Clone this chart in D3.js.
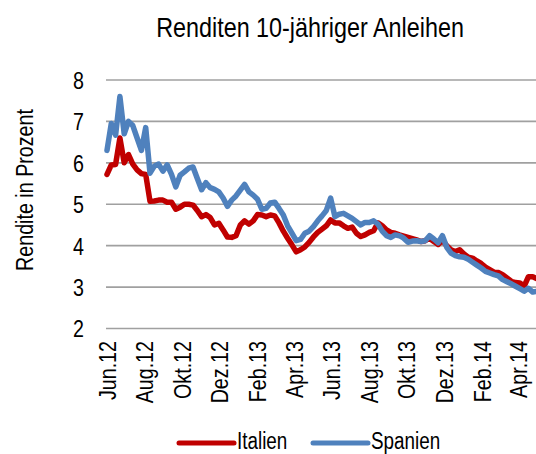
<!DOCTYPE html>
<html lang="de">
<head>
    <meta charset="UTF-8">
    <title>Renditen 10-jähriger Anleihen</title>
    <style>
        body {
            margin: 0;
            background: #fff;
        }
        svg text {
            font-family: "Liberation Sans Narrow", "Arial Narrow", "Liberation Sans", Arial, sans-serif;
            fill: #000;
        }
    </style>
    <script src="https://d3js.org/d3.v7.min.js"></script>
</head>
<body>
    <div id="chart"></div>

    <script>
        const dates = [
            "2012-06-01","2012-06-08","2012-06-15","2012-06-22","2012-06-29","2012-07-06","2012-07-13","2012-07-20","2012-07-27","2012-08-03",
            "2012-08-10","2012-08-17","2012-08-24","2012-08-31","2012-09-07","2012-09-14","2012-09-21","2012-09-28","2012-10-05","2012-10-12",
            "2012-10-19","2012-10-26","2012-11-02","2012-11-09","2012-11-16","2012-11-23","2012-11-30","2012-12-07","2012-12-14","2012-12-21",
            "2012-12-28","2013-01-04","2013-01-11","2013-01-18","2013-01-25","2013-02-01","2013-02-08","2013-02-15","2013-02-22","2013-03-01",
            "2013-03-08","2013-03-15","2013-03-22","2013-03-29","2013-04-05","2013-04-12","2013-04-19","2013-04-26","2013-05-03","2013-05-10",
            "2013-05-17","2013-05-24","2013-05-31","2013-06-07","2013-06-14","2013-06-21","2013-06-28","2013-07-05","2013-07-12","2013-07-19",
            "2013-07-26","2013-08-02","2013-08-09","2013-08-16","2013-08-23","2013-08-30","2013-09-06","2013-09-13","2013-09-20","2013-09-27",
            "2013-10-04","2013-10-11","2013-10-18","2013-10-25","2013-11-01","2013-11-08","2013-11-15","2013-11-22","2013-11-29","2013-12-06",
            "2013-12-13","2013-12-20","2013-12-27","2014-01-03","2014-01-10","2014-01-17","2014-01-24","2014-01-31","2014-02-07","2014-02-14",
            "2014-02-21","2014-02-28","2014-03-07","2014-03-14","2014-03-21","2014-03-28","2014-04-04","2014-04-11","2014-04-18","2014-04-25",
            "2014-05-02"
        ];

        const italien = [
            5.72, 5.95, 5.96, 6.60, 6.00, 6.20, 5.97, 5.83, 5.74, 5.72,
            5.07, 5.08, 5.10, 5.10, 5.05, 5.05, 4.88, 4.93, 5.00, 5.00,
            4.98, 4.85, 4.70, 4.75, 4.68, 4.50, 4.54, 4.38, 4.21, 4.20,
            4.24, 4.50, 4.60, 4.52, 4.60, 4.75, 4.74, 4.70, 4.74, 4.72,
            4.55, 4.35, 4.18, 4.02, 3.85, 3.90, 3.97, 4.08, 4.21, 4.32,
            4.40, 4.48, 4.62, 4.55, 4.55, 4.48, 4.42, 4.45, 4.30, 4.22,
            4.26, 4.32, 4.36, 4.55, 4.48, 4.38, 4.32, 4.30, 4.26, 4.23,
            4.20, 4.17, 4.14, 4.10, 4.12, 4.18, 4.10, 4.03, 4.13, 4.00,
            3.90, 3.86, 3.90, 3.80, 3.72, 3.70, 3.63, 3.57, 3.48, 3.42,
            3.36, 3.35, 3.30, 3.22, 3.14, 3.11, 3.10, 3.02, 3.25, 3.25,
            3.20
        ];

        const spanien = [
            6.30, 6.95, 6.67, 7.60, 6.70, 7.00, 6.90, 6.60, 6.30, 6.85,
            5.75, 5.92, 5.97, 5.80, 5.95, 5.72, 5.42, 5.70, 5.78, 5.87,
            5.90, 5.62, 5.35, 5.52, 5.40, 5.36, 5.30, 5.15, 4.95, 5.10,
            5.20, 5.34, 5.48, 5.30, 5.22, 5.12, 4.88, 4.90, 5.03, 5.05,
            4.90, 4.74, 4.48, 4.30, 4.12, 4.15, 4.30, 4.35, 4.46, 4.60,
            4.72, 4.85, 5.15, 4.70, 4.76, 4.78, 4.72, 4.66, 4.58, 4.50,
            4.56, 4.56, 4.60, 4.52, 4.35, 4.24, 4.20, 4.26, 4.24, 4.18,
            4.08, 4.11, 4.12, 4.10, 4.12, 4.24, 4.16, 4.07, 4.24, 3.96,
            3.82, 3.76, 3.73, 3.72, 3.67, 3.60, 3.53, 3.46, 3.38, 3.34,
            3.30, 3.27, 3.18, 3.13, 3.08, 3.02, 2.96, 2.90, 2.97, 2.88,
            2.90
        ];

        const tickDates = ["2012-06-01","2012-08-01","2012-10-01","2012-12-01","2013-02-01","2013-04-01",
                           "2013-06-01","2013-08-01","2013-10-01","2013-12-01","2014-02-01","2014-04-01"];
        const tickLabels = ["Jun.12","Aug.12","Okt.12","Dez.12","Feb.13","Apr.13",
                            "Jun.13","Aug.13","Okt.13","Dez.13","Feb.14","Apr.14"];
        const yTicks = [2, 3, 4, 5, 6, 7, 8];

        const width = 536;
        const height = 454;
        const narrow = "scale(0.82,1)"; // no narrow face installed, squeeze the regular one
        const parse = d3.timeParse("%Y-%m-%d");

        const x = d3.scaleTime()
            .domain([parse("2012-06-01"), parse("2014-04-01")])
            .range([107, 518]);

        const y = d3.scaleLinear()
            .domain([2, 8])
            .range([328.5, 80]);

        const svg = d3.select("#chart")
            .append("svg")
            .attr("width", width)
            .attr("height", height);

        // title
        svg.append("text")
            .attr("transform", "translate(310,37) " + narrow)
            .attr("text-anchor", "middle")
            .style("font-size", "28.5px")
            .text("Renditen 10-jähriger Anleihen");

        // horizontal grid
        svg.append("g")
            .selectAll("line")
            .data(yTicks)
            .enter()
            .append("line")
            .attr("x1", 106)
            .attr("x2", width)
            .attr("y1", d => y(d))
            .attr("y2", d => y(d))
            .style("stroke", "#a0a0a0")
            .style("stroke-width", 1.6);

        // y axis
        const yAxis = svg.append("g")
            .attr("transform", "translate(84,0)")
            .call(d3.axisLeft(y).tickValues(yTicks).tickSize(0).tickPadding(0).tickFormat(d3.format("d")));
        yAxis.select(".domain").remove();
        yAxis.selectAll("text")
            .style("font-size", "24px")
            .attr("x", 0)
            .attr("dy", "0.35em")
            .attr("transform", narrow);

        svg.append("text")
            .attr("transform", "translate(25,190) rotate(-90) " + narrow)
            .attr("text-anchor", "middle")
            .attr("dy", "0.35em")
            .style("font-size", "24px")
            .text("Rendite in Prozent");

        // x axis labels
        const xAxis = svg.append("g")
            .attr("transform", "translate(0,341)")
            .call(d3.axisBottom(x)
                .tickValues(tickDates.map(parse))
                .tickSize(0)
                .tickFormat((d, i) => tickLabels[i]));
        xAxis.select(".domain").remove();
        xAxis.selectAll("text")
            .style("font-size", "24px")
            .attr("text-anchor", "end")
            .attr("x", 0)
            .attr("y", 0)
            .attr("dy", "0.35em")
            .attr("transform", "rotate(-90) " + narrow);

        // lines
        const line = d3.line()
            .x((d, i) => x(parse(dates[i])))
            .y(d => y(d));

        const series = [
            { name: "Italien", values: italien, color: "#C00000" },
            { name: "Spanien", values: spanien, color: "#4F81BD" }
        ];

        svg.append("g")
            .selectAll("path")
            .data(series)
            .enter()
            .append("path")
            .attr("d", d => line(d.values))
            .style("fill", "none")
            .style("stroke", d => d.color)
            .style("stroke-width", 5.5)
            .style("stroke-linejoin", "round")
            .style("stroke-linecap", "round");

        // legend
        const legendX = [179, 313];
        const legend = svg.append("g")
            .selectAll("g")
            .data(series)
            .enter()
            .append("g")
            .attr("transform", (d, i) => `translate(${legendX[i]},443)`);

        legend.append("line")
            .attr("x1", 0)
            .attr("x2", 55)
            .style("stroke", d => d.color)
            .style("stroke-width", 5)
            .style("stroke-linecap", "round");

        legend.append("text")
            .attr("transform", "translate(58,6) " + narrow)
            .style("font-size", "23px")
            .text(d => d.name);
    </script>
</body>
</html>
